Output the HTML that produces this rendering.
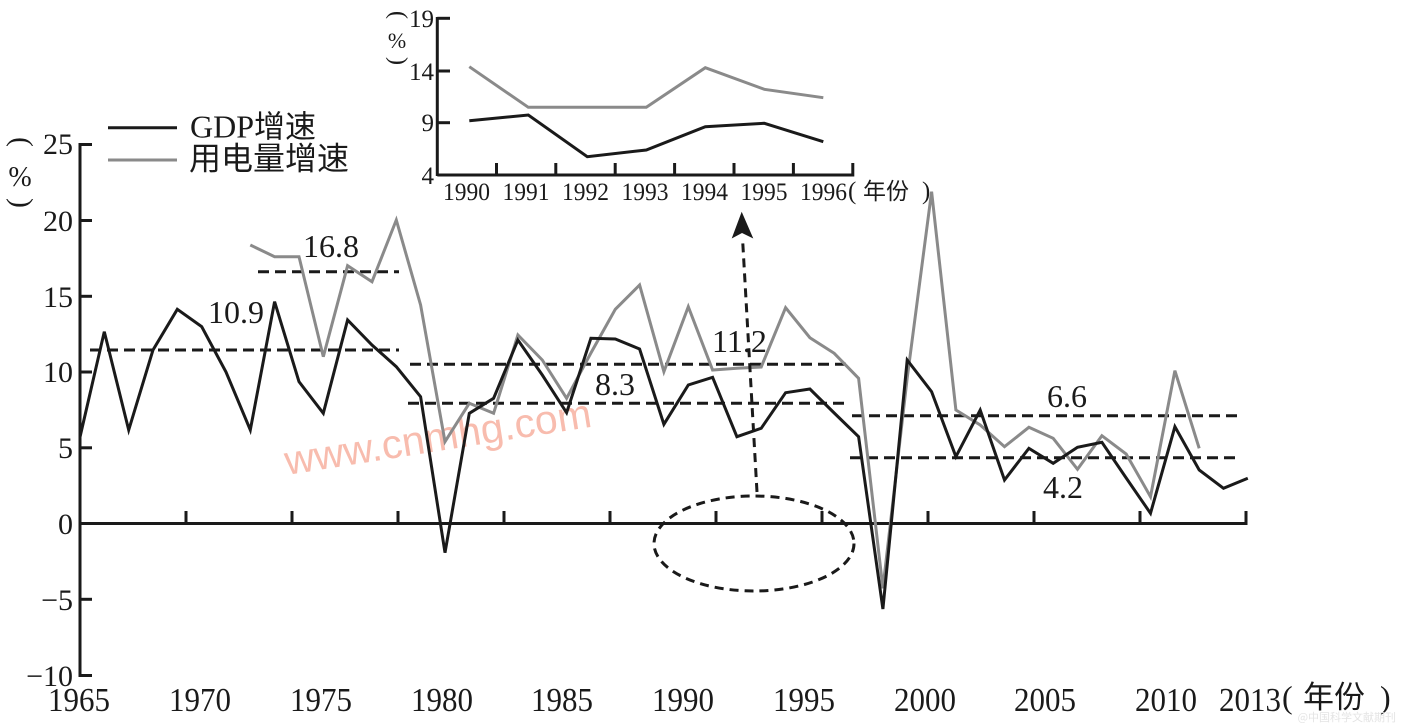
<!DOCTYPE html>
<html><head><meta charset="utf-8"><style>
html,body{margin:0;padding:0;background:#fff;}
svg{display:block;}
</style></head><body>
<svg width="1404" height="725" viewBox="0 0 1404 725" xmlns="http://www.w3.org/2000/svg" font-family="'Liberation Serif', serif" fill="#1a1a1a">
<rect width="1404" height="725" fill="#fff"/>

<!-- watermark -->
<text x="287" y="475" transform="rotate(-9 287 475)" font-family="'Liberation Sans', sans-serif" font-size="41" fill="#f8bcae">www.cnmhg.com</text>

<!-- main axes -->
<g stroke="#1a1a1a" stroke-width="3" fill="none">
  <line x1="80" y1="143" x2="80" y2="676.5"/>
  <line x1="80" y1="523.5" x2="1247" y2="523.5"/>
  <line x1="80" y1="144.5" x2="92" y2="144.5"/>
  <line x1="80" y1="220.5" x2="92" y2="220.5"/>
  <line x1="80" y1="296.3" x2="92" y2="296.3"/>
  <line x1="80" y1="372" x2="92" y2="372"/>
  <line x1="80" y1="447.8" x2="92" y2="447.8"/>
  <line x1="80" y1="599.3" x2="92" y2="599.3"/>
  <line x1="78.5" y1="675.5" x2="92" y2="675.5"/>
  <line x1="186" y1="523.5" x2="186" y2="511"/>
  <line x1="292" y1="523.5" x2="292" y2="511"/>
  <line x1="398" y1="523.5" x2="398" y2="511"/>
  <line x1="504" y1="523.5" x2="504" y2="511"/>
  <line x1="610" y1="523.5" x2="610" y2="511"/>
  <line x1="716" y1="523.5" x2="716" y2="511"/>
  <line x1="822" y1="523.5" x2="822" y2="511"/>
  <line x1="928" y1="523.5" x2="928" y2="511"/>
  <line x1="1034" y1="523.5" x2="1034" y2="511"/>
  <line x1="1140" y1="523.5" x2="1140" y2="511"/>
  <line x1="1246" y1="525" x2="1246" y2="511"/>
</g>

<!-- y tick labels -->
<g font-family="'Liberation Serif', serif" font-size="30" text-anchor="end">
  <text x="73" y="154">25</text>
  <text x="73" y="231">20</text>
  <text x="73" y="307">15</text>
  <text x="73" y="382">10</text>
  <text x="73" y="458">5</text>
  <text x="73" y="534">0</text>
  <text x="73" y="610">−5</text>
  <text x="73" y="686">−10</text>
</g>

<!-- y unit label -->
<text transform="translate(20,142) rotate(90)" x="-5" y="7.5" font-family="'Liberation Serif', serif" font-size="30">(</text>
<text x="20" y="186" text-anchor="middle" font-family="'Liberation Serif', serif" font-size="28">%</text>
<text transform="translate(20,203) rotate(90)" x="-5" y="7.5" font-family="'Liberation Serif', serif" font-size="30">)</text>

<!-- x tick labels -->
<g font-family="'Liberation Serif', serif" font-size="34" text-anchor="middle">
  <text x="79" y="711" textLength="62" lengthAdjust="spacingAndGlyphs">1965</text>
  <text x="200" y="711" textLength="62" lengthAdjust="spacingAndGlyphs">1970</text>
  <text x="321" y="711" textLength="62" lengthAdjust="spacingAndGlyphs">1975</text>
  <text x="442" y="711" textLength="62" lengthAdjust="spacingAndGlyphs">1980</text>
  <text x="562" y="711" textLength="62" lengthAdjust="spacingAndGlyphs">1985</text>
  <text x="683" y="711" textLength="62" lengthAdjust="spacingAndGlyphs">1990</text>
  <text x="804" y="711" textLength="62" lengthAdjust="spacingAndGlyphs">1995</text>
  <text x="925" y="711" textLength="62" lengthAdjust="spacingAndGlyphs">2000</text>
  <text x="1045" y="711" textLength="62" lengthAdjust="spacingAndGlyphs">2005</text>
  <text x="1166" y="711" textLength="62" lengthAdjust="spacingAndGlyphs">2010</text>
  <text x="1250" y="711" textLength="62" lengthAdjust="spacingAndGlyphs">2013</text>
</g>
<text x="1282" y="708" font-family="'Liberation Serif', serif" font-size="32">(</text>
<text x="1303" y="708" font-family="'Noto Sans CJK SC', sans-serif" font-size="31">年份</text>
<text x="1380" y="708" font-family="'Liberation Serif', serif" font-size="32">)</text>

<!-- dashed mean lines -->
<g stroke="#1a1a1a" stroke-width="3" stroke-dasharray="11 6" fill="none">
  <line x1="90" y1="350" x2="399" y2="350"/>
  <line x1="258" y1="271.7" x2="399" y2="271.7"/>
  <line x1="410" y1="364.3" x2="847" y2="364.3"/>
  <line x1="408" y1="403.3" x2="847" y2="403.3"/>
  <line x1="852" y1="415.7" x2="1237" y2="415.7"/>
  <line x1="850" y1="457.7" x2="1237" y2="457.7"/>
</g>

<!-- annotations -->
<g font-family="'Liberation Serif', serif" font-size="32">
  <text x="303" y="257">16.8</text>
  <text x="208" y="323">10.9</text>
  <text x="595" y="395">8.3</text>
  <text x="712" y="352">11.2</text>
  <text x="1047" y="407">6.6</text>
  <text x="1043" y="498">4.2</text>
</g>

<!-- electricity (gray) -->
<polyline fill="none" stroke="#8a8a8a" stroke-width="3" points="
250.3,245 274.6,256.7 299,256.7 323.3,356.7 347.6,265.7 372,281.7 396.3,220 420.6,305 445,441.7
469.3,403.3 493.6,413.3 517.9,335 542.3,360 566.6,398.3 590.9,353 615.3,309.3 639.6,285
663.9,371.7 688.3,306.7 712.6,370 736.9,368.3 761.2,367 785.6,307.7 809.9,337.7 834.2,353.3
858.6,378.3 882.9,588.3 907.2,378 931.6,191.7 955.9,410 980.2,425 1004.5,446.7 1028.9,427.3
1053.2,438.3 1077.5,469.3 1101.9,435.7 1126.2,454 1150.5,496.7 1174.9,370.7 1199.2,448.3"/>

<!-- GDP (black) -->
<polyline fill="none" stroke="#1a1a1a" stroke-width="3" points="
80,437 104.3,331.7 128.7,430 153,350 177.3,309.3 201.7,326.7 226,372 250.3,430 274.6,301.7
299,381.7 323.3,413.3 347.6,320 372,345 396.3,366.7 420.6,396.7 445,552.7 469.3,413.3
493.6,398.3 517.9,340 542.3,375 566.6,412.7 590.9,338.3 615.3,339 639.6,349 663.9,424.3
688.3,385 712.6,377.3 736.9,436.7 761.2,428.3 785.6,392.7 809.9,389 834.2,413 858.6,436.7
882.9,609 907.2,360 931.6,391.7 955.9,456.7 980.2,410 1004.5,480 1028.9,448.3 1053.2,463.3
1077.5,447.3 1101.9,442.3 1126.2,478 1150.5,513.3 1174.9,426.7 1199.2,470 1223.5,488.3 1247.8,478.3"/>

<!-- ellipse and arrow -->
<ellipse cx="754" cy="543.5" rx="100" ry="47.5" fill="none" stroke="#1a1a1a" stroke-width="3" stroke-dasharray="9 6"/>
<line x1="757" y1="492" x2="742.5" y2="238" stroke="#1a1a1a" stroke-width="3" stroke-dasharray="9 6"/>
<polygon points="741.7,211.7 753.3,238.5 742,233 731.7,238.5" fill="#1a1a1a"/>

<!-- legend -->
<line x1="108" y1="127.7" x2="177" y2="127.7" stroke="#1a1a1a" stroke-width="3"/>
<text x="190" y="137.5" font-size="32"><tspan font-family="'Liberation Serif', serif">GDP</tspan><tspan font-family="'Noto Sans CJK SC', sans-serif" font-size="31">增速</tspan></text>
<line x1="108" y1="160" x2="177" y2="160" stroke="#8a8a8a" stroke-width="3"/>
<text x="189" y="169.5" font-family="'Noto Sans CJK SC', sans-serif" font-size="32">用电量增速</text>

<!-- inset -->
<g stroke="#1a1a1a" stroke-width="3" fill="none">
  <line x1="437.3" y1="17" x2="437.3" y2="176"/>
  <line x1="437.3" y1="175" x2="854" y2="175"/>
  <line x1="437.3" y1="18.3" x2="450" y2="18.3"/>
  <line x1="437.3" y1="71" x2="450" y2="71"/>
  <line x1="437.3" y1="122.7" x2="450" y2="122.7"/>
  <line x1="496.5" y1="175" x2="496.5" y2="163"/>
  <line x1="555.8" y1="175" x2="555.8" y2="163"/>
  <line x1="615.2" y1="175" x2="615.2" y2="163"/>
  <line x1="674.6" y1="175" x2="674.6" y2="163"/>
  <line x1="734" y1="175" x2="734" y2="163"/>
  <line x1="793.4" y1="175" x2="793.4" y2="163"/>
  <line x1="852.8" y1="176.5" x2="852.8" y2="163"/>
</g>
<g font-family="'Liberation Serif', serif" font-size="25" text-anchor="end">
  <text x="434" y="27">19</text>
  <text x="434" y="80">14</text>
  <text x="434" y="131">9</text>
  <text x="434" y="184">4</text>
</g>
<text transform="translate(397,15) rotate(90)" x="-4" y="6" font-family="'Liberation Serif', serif" font-size="24">(</text>
<text x="397" y="48" text-anchor="middle" font-family="'Liberation Serif', serif" font-size="22">%</text>
<text transform="translate(397,61) rotate(90)" x="-4" y="6" font-family="'Liberation Serif', serif" font-size="24">)</text>
<g font-family="'Liberation Serif', serif" font-size="25" text-anchor="middle">
  <text x="466.5" y="200" textLength="47" lengthAdjust="spacingAndGlyphs">1990</text>
  <text x="526" y="200" textLength="47" lengthAdjust="spacingAndGlyphs">1991</text>
  <text x="585.5" y="200" textLength="47" lengthAdjust="spacingAndGlyphs">1992</text>
  <text x="645" y="200" textLength="47" lengthAdjust="spacingAndGlyphs">1993</text>
  <text x="704.5" y="200" textLength="47" lengthAdjust="spacingAndGlyphs">1994</text>
  <text x="764" y="200" textLength="47" lengthAdjust="spacingAndGlyphs">1995</text>
  <text x="823.5" y="200" textLength="47" lengthAdjust="spacingAndGlyphs">1996</text>
</g>
<text x="848" y="199" font-family="'Liberation Serif', serif" font-size="25">(</text>
<text x="863" y="199" font-family="'Noto Sans CJK SC', sans-serif" font-size="23">年份</text>
<text x="922" y="199" font-family="'Liberation Serif', serif" font-size="25">)</text>
<polyline fill="none" stroke="#8a8a8a" stroke-width="3" points="469.3,66.7 528.3,107.3 587.3,107.3 646.3,107.3 705.3,67.7 764.3,89.3 823.3,97.7"/>
<polyline fill="none" stroke="#1a1a1a" stroke-width="3" points="469.3,120.7 528.3,115 587.3,156.7 646.3,150 705.3,126.7 764.3,123.3 823.3,141.7"/>

<!-- faint corner mark -->
<text x="1396" y="721" text-anchor="end" font-family="'Noto Sans CJK SC', sans-serif" font-size="11" fill="#e4e4e4">@中国科学文献期刊</text>
</svg>
</body></html>
